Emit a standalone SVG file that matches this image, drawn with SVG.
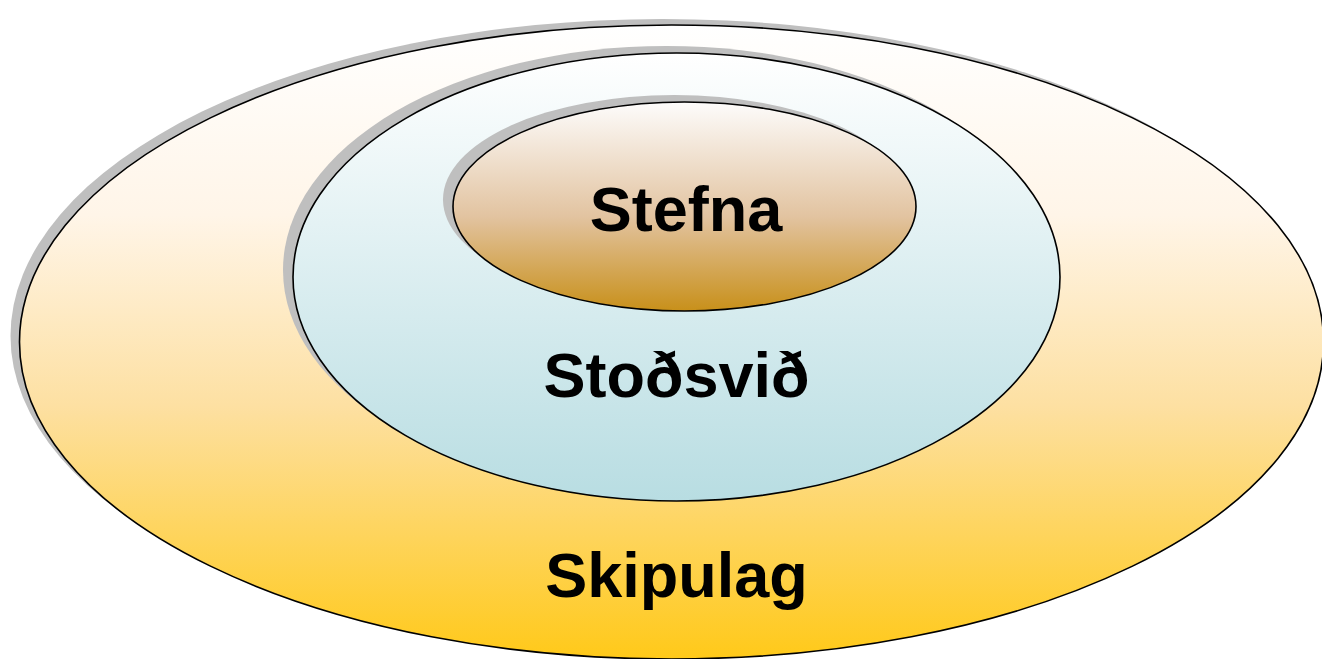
<svg xmlns="http://www.w3.org/2000/svg" width="1322" height="659" viewBox="0 0 1322 659">
  <defs>
    <linearGradient id="gOuter" x1="0" y1="0" x2="0" y2="1">
      <stop offset="0" stop-color="#ffffff"/>
      <stop offset="0.3" stop-color="#fff5e8"/>
      <stop offset="0.6" stop-color="#fde0a2"/>
      <stop offset="1" stop-color="#ffc919"/>
    </linearGradient>
    <linearGradient id="gMid" x1="0" y1="0" x2="0" y2="1">
      <stop offset="0" stop-color="#ffffff"/>
      <stop offset="1" stop-color="#b8dde2"/>
    </linearGradient>
    <linearGradient id="gInner" x1="0" y1="0" x2="0" y2="1">
      <stop offset="0" stop-color="#fdfcfb"/>
      <stop offset="0.55" stop-color="#e2c3a0"/>
      <stop offset="1" stop-color="#c8901a"/>
    </linearGradient>
  </defs>
  <style>
    .shadow { fill: #bfbfbf; stroke: none; }
    .shape { stroke: #000000; stroke-width: 1.6; }
    .label { font-family: "Liberation Sans", Arial, sans-serif; font-weight: bold; font-size: 63px; fill: #000000; text-anchor: middle; }
  </style>
  <rect width="1322" height="659" fill="#ffffff"/>
  <g id="skipulag">
    <ellipse class="shadow" cx="662.5" cy="336" rx="652" ry="317"/>
    <ellipse class="shape" cx="671.5" cy="342" rx="652" ry="317" fill="url(#gOuter)"/>
    <text class="label" x="676.5" y="597">Skipulag</text>
  </g>
  <g id="stodsvid">
    <ellipse class="shadow" cx="666.5" cy="270" rx="383.5" ry="224"/>
    <ellipse class="shape" cx="676.5" cy="277" rx="383.5" ry="224" fill="url(#gMid)"/>
    <text class="label" x="676.5" y="397">Stoðsvið</text>
  </g>
  <g id="stefna">
    <ellipse class="shadow" cx="674.5" cy="199.5" rx="231.5" ry="104.5"/>
    <ellipse class="shape" cx="684.5" cy="206.5" rx="231.5" ry="104.5" fill="url(#gInner)"/>
    <text class="label" x="686" y="231">Stefna</text>
  </g>
  <g id="connectors"/>
</svg>
